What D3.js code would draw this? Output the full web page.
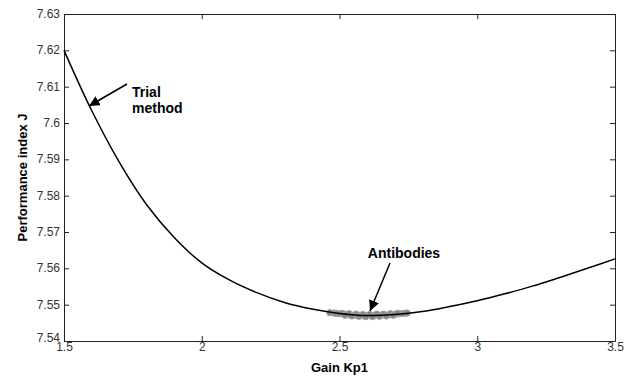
<!DOCTYPE html>
<html>
<head>
<meta charset="utf-8">
<script src="https://cdn.jsdelivr.net/npm/d3@7"></script>
<style>
  body { margin: 0; background: #fff; }
  text { font-family: Arial, "Liberation Sans", sans-serif; }
</style>
</head>
<body>
<div id="chart"></div>
<script>
// Performance index J as a function of gain Kp1
var kpValues = [1.5, 1.6, 1.7, 1.8, 1.9, 2.0, 2.1, 2.2, 2.3, 2.4, 2.5,
    2.6, 2.7, 2.8, 2.9, 3.0, 3.1, 3.2, 3.3, 3.4, 3.5];
var jValues = [7.6200, 7.6035, 7.5893, 7.5775, 7.5685, 7.5615, 7.5568, 7.5533, 7.5506, 7.5488, 7.5476,
    7.5470, 7.5473, 7.5481, 7.5495, 7.5511, 7.5530, 7.5551, 7.5575, 7.5600, 7.5626];

// antibody population clustered around the optimum
var antibodyKp = [2.465, 2.48, 2.49, 2.50, 2.515, 2.53, 2.54, 2.555, 2.565, 2.58, 2.59, 2.60,
    2.615, 2.625, 2.64, 2.65, 2.665, 2.68, 2.69, 2.705, 2.72, 2.735, 2.745,
    2.51, 2.535, 2.56, 2.585, 2.61, 2.635, 2.66, 2.685, 2.71,
    2.52, 2.545, 2.57, 2.595, 2.62, 2.645, 2.67, 2.695];
var antibodyJ = [7.5478, 7.5477, 7.5476, 7.5475, 7.5474, 7.5473, 7.5472, 7.5471, 7.5471, 7.5470, 7.5470, 7.5470,
    7.5470, 7.5470, 7.5471, 7.5471, 7.5472, 7.5472, 7.5473, 7.5474, 7.5475, 7.5476, 7.5477,
    7.5476, 7.5475, 7.5474, 7.5473, 7.5473, 7.5474, 7.5474, 7.5475, 7.5476,
    7.5471, 7.5469, 7.5468, 7.5467, 7.5467, 7.5468, 7.5469, 7.5471];

var xTicks = [1.5, 2, 2.5, 3, 3.5];
var yTicks = [7.54, 7.55, 7.56, 7.57, 7.58, 7.59, 7.6, 7.61, 7.62, 7.63];

var width = 634, height = 377;
var margin = { left: 64, top: 14, right: 19, bottom: 36 };
var innerW = width - margin.left - margin.right;
var innerH = height - margin.top - margin.bottom;

var svg = d3.select("#chart")
    .append("svg")
    .attr("width", width)
    .attr("height", height);

var g = svg.append("g")
    .attr("transform", "translate(" + margin.left + "," + margin.top + ")");

var x = d3.scaleLinear().domain([1.5, 3.5]).range([0, innerW]);
var y = d3.scaleLinear().domain([7.54, 7.63]).range([innerH, 0]);

var axisColor = "#222";
var tickLen = 5;

// box axes with inward ticks, MATLAB style
var xBottom = g.append("g")
    .attr("transform", "translate(0," + innerH + ")")
    .call(d3.axisBottom(x).tickValues(xTicks).tickSizeInner(-tickLen).tickSizeOuter(0)
        .tickPadding(3).tickFormat(d3.format("")));
var xTop = g.append("g")
    .call(d3.axisTop(x).tickValues(xTicks).tickSizeInner(-tickLen).tickSizeOuter(0).tickFormat(""));
var yLeft = g.append("g")
    .call(d3.axisLeft(y).tickValues(yTicks).tickSizeInner(-tickLen).tickSizeOuter(0)
        .tickPadding(4).tickFormat(d3.format("")));
var yRight = g.append("g")
    .attr("transform", "translate(" + innerW + ",0)")
    .call(d3.axisRight(y).tickValues(yTicks).tickSizeInner(-tickLen).tickSizeOuter(0).tickFormat(""));

[xBottom, xTop, yLeft, yRight].forEach(function (a) {
    a.select(".domain").attr("stroke", axisColor);
    a.selectAll(".tick line").attr("stroke", axisColor);
    a.selectAll(".tick text")
        .attr("fill", "#333")
        .style("font-size", "12px");
});
xBottom.selectAll(".tick text").attr("dy", "0.6em");
yLeft.selectAll(".tick text").attr("dy", "0.3em");
// lowest y label sits a little higher so it clears the "1.5"
yLeft.selectAll(".tick text").filter(function (d) { return d === 7.54; }).attr("dy", "0.05em");

// antibodies
g.append("g")
    .selectAll("circle")
    .data(antibodyKp)
    .enter()
    .append("circle")
    .attr("cx", function (d) { return x(d); })
    .attr("cy", function (d, i) { return y(antibodyJ[i]); })
    .attr("r", 3.2)
    .attr("fill", "#858585")
    .attr("stroke", "#a5a5a5")
    .attr("stroke-width", 1);

// performance curve
var line = d3.line()
    .x(function (d) { return x(d); })
    .y(function (d, i) { return y(jValues[i]); })
    .curve(d3.curveCatmullRom);

g.append("path")
    .datum(kpValues)
    .attr("d", line)
    .attr("fill", "none")
    .attr("stroke", "#000")
    .attr("stroke-width", 1.5);

// annotations
svg.append("defs").append("marker")
    .attr("id", "arrow")
    .attr("viewBox", "0 0 10 10")
    .attr("refX", 10)
    .attr("refY", 5)
    .attr("markerWidth", 7)
    .attr("markerHeight", 7)
    .attr("orient", "auto")
    .append("path")
    .attr("d", "M0,0 L10,5 L0,10 z")
    .attr("fill", "#000");

function addArrow(x1, y1, x2, y2) {
    svg.append("line")
        .attr("x1", x1).attr("y1", y1)
        .attr("x2", x2).attr("y2", y2)
        .attr("stroke", "#000")
        .attr("stroke-width", 1.5)
        .attr("marker-end", "url(#arrow)");
}

addArrow(127, 84, 89, 106);
svg.append("text")
    .attr("x", 132).attr("y", 97)
    .style("font-size", "14px").style("font-weight", "bold")
    .text("Trial");
svg.append("text")
    .attr("x", 132).attr("y", 113)
    .style("font-size", "14px").style("font-weight", "bold")
    .text("method");

addArrow(390, 263, 370, 311);
svg.append("text")
    .attr("x", 404).attr("y", 258)
    .style("text-anchor", "middle")
    .style("font-size", "14px").style("font-weight", "bold")
    .text("Antibodies");

// axis titles
svg.append("text")
    .attr("x", margin.left + innerW / 2)
    .attr("y", 372)
    .style("text-anchor", "middle")
    .style("font-size", "13px").style("font-weight", "bold")
    .text("Gain Kp1");

svg.append("text")
    .attr("transform", "translate(27," + (margin.top + innerH / 2) + ") rotate(-90)")
    .style("text-anchor", "middle")
    .style("font-size", "13px").style("font-weight", "bold")
    .text("Performance index J");
</script>
</body>
</html>
